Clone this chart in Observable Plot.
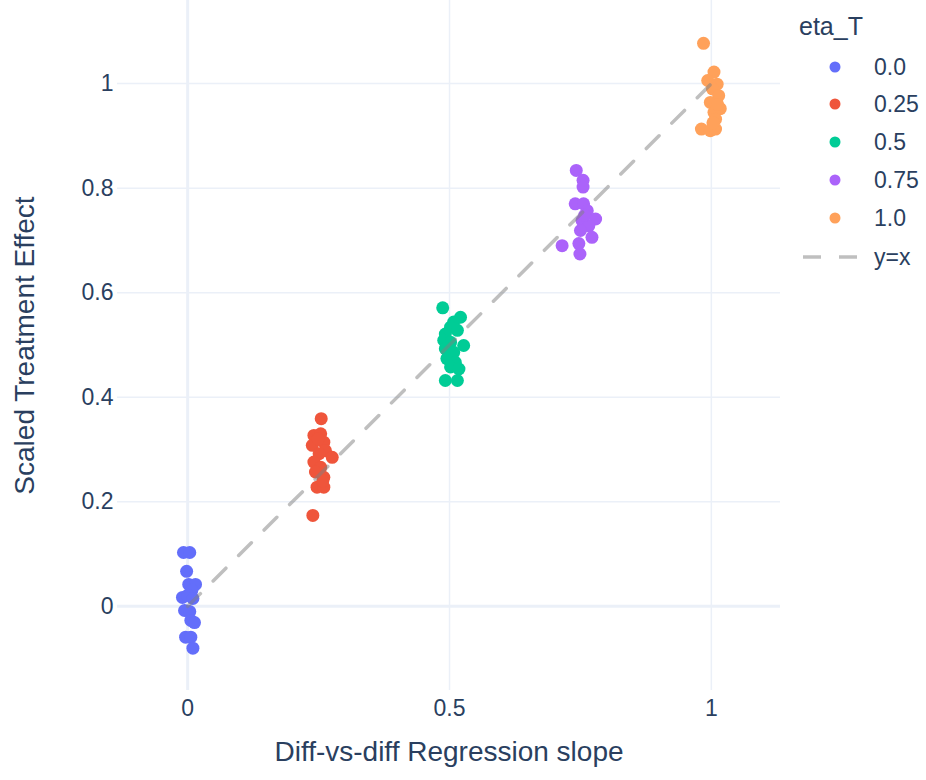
<!DOCTYPE html>
<html>
<head>
<meta charset="utf-8">
<script src="https://cdn.jsdelivr.net/npm/d3@7"></script>
<script src="https://cdn.jsdelivr.net/npm/@observablehq/plot@0.6"></script>
<style>
  html, body { margin: 0; padding: 0; background: #fff; }
  #wrap { position: relative; width: 926px; height: 780px; font-family: "Liberation Sans", Arial, sans-serif; }
  #legend { position: absolute; left: 0; top: 0; pointer-events: none; }
</style>
</head>
<body>
<div id="wrap"></div>
<script>
// Treatment-effect levels and their colours
const etaLevels = ["0.0", "0.25", "0.5", "0.75", "1.0"];
const etaColors = ["#636efa", "#ef553b", "#00cc96", "#ab63fa", "#ffa15a"];

// Estimated regression slope per simulation run, one list per eta level
const slopes = [
  [-0.008, 0.004, -0.002, 0.002, 0.015, 0.008, -0.010, 0.000, 0.010, -0.006, 0.004, 0.006, 0.013, -0.004, 0.006, 0.010],
  [0.255, 0.241, 0.254, 0.260, 0.238, 0.263, 0.251, 0.276, 0.241, 0.254, 0.244, 0.260, 0.247, 0.260, 0.239, 0.249, 0.258],
  [0.487, 0.521, 0.508, 0.502, 0.515, 0.492, 0.489, 0.502, 0.527, 0.492, 0.508, 0.495, 0.511, 0.502, 0.518, 0.492, 0.515],
  [0.742, 0.755, 0.755, 0.740, 0.756, 0.763, 0.779, 0.753, 0.766, 0.750, 0.772, 0.715, 0.747, 0.749, 0.758],
  [0.985, 1.005, 0.993, 1.011, 1.002, 1.014, 0.998, 1.017, 1.005, 1.008, 0.981, 0.998, 1.008, 1.003, 1.012]
];

// Scaled treatment effect per simulation run, matching the slopes above
const effects = [
  [0.103, 0.103, 0.067, 0.042, 0.042, 0.031, 0.017, 0.021, 0.015, -0.008, -0.010, -0.027, -0.031, -0.059, -0.059, -0.080],
  [0.359, 0.327, 0.330, 0.314, 0.308, 0.298, 0.292, 0.285, 0.276, 0.266, 0.257, 0.247, 0.228, 0.228, 0.174, 0.320, 0.240],
  [0.571, 0.553, 0.544, 0.534, 0.528, 0.521, 0.509, 0.505, 0.499, 0.493, 0.486, 0.474, 0.467, 0.458, 0.454, 0.432, 0.432],
  [0.834, 0.815, 0.802, 0.770, 0.770, 0.757, 0.741, 0.738, 0.728, 0.719, 0.706, 0.690, 0.694, 0.674, 0.748],
  [1.077, 1.022, 1.006, 0.999, 0.990, 0.977, 0.964, 0.952, 0.945, 0.932, 0.913, 0.910, 0.913, 0.925, 0.960]
];

// Axis ticks
const xTicks = [0, 0.5, 1];
const yTicks = [0, 0.2, 0.4, 0.6, 0.8, 1];

// Identity reference line
const identityLine = [0, 1];

const points = etaLevels.flatMap((eta, i) =>
  slopes[i].map((s, j) => ({eta, slope: s, effect: effects[i][j]}))
);
const refLine = identityLine.map(v => ({slope: v, effect: v}));

const gridColor = "#ebf0f8";
const textColor = "#2a3f5f";

const chart = Plot.plot({
  width: 926,
  height: 780,
  marginLeft: 117,
  marginRight: 146,
  marginTop: 0,
  marginBottom: 90,
  style: {fontFamily: "'Liberation Sans', Arial, sans-serif", fontSize: "23px", color: textColor, background: "white"},
  x: {domain: [-0.134, 1.132]},
  y: {domain: [-0.161, 1.159]},
  color: {domain: etaLevels, range: etaColors},
  marks: [
    Plot.ruleX(xTicks.filter(d => d !== 0), {x: d => d, stroke: gridColor, strokeWidth: 1.5}),
    Plot.ruleY(yTicks.filter(d => d !== 0), {y: d => d, stroke: gridColor, strokeWidth: 1.5}),
    Plot.ruleX([0], {stroke: gridColor, strokeWidth: 3}),
    Plot.ruleY([0], {stroke: gridColor, strokeWidth: 3}),
    Plot.axisX(xTicks, {tickSize: 0, tickPadding: 9, tickFormat: d => String(d), label: null, fill: textColor}),
    Plot.axisY(yTicks, {tickSize: 0, tickPadding: 4, tickFormat: d => String(d), label: null, fill: textColor}),
    Plot.dot(points, {x: "slope", y: "effect", fill: "eta", r: 6.5, stroke: "none"}),
    Plot.line(refLine, {x: "slope", y: "effect", stroke: "gray", strokeOpacity: 0.5, strokeWidth: 3.5, strokeDasharray: "18,18"}),
    Plot.text(["Diff-vs-diff Regression slope"], {frameAnchor: "bottom", dy: 70, fontSize: 28, fill: textColor}),
    Plot.text(["Scaled Treatment Effect"], {frameAnchor: "left", textAnchor: "middle", dx: -92, rotate: -90, fontSize: 28, fill: textColor})
  ]
});

const wrap = document.getElementById("wrap");
wrap.appendChild(chart);

// Legend on the right of the plotting area
const legend = d3.select(wrap).append("svg")
  .attr("id", "legend")
  .attr("width", 926)
  .attr("height", 780)
  .style("font-family", "'Liberation Sans', Arial, sans-serif")
  .style("fill", textColor);

legend.append("text")
  .attr("x", 799).attr("y", 35)
  .attr("font-size", 25)
  .text("eta_T");

const rowY = [67, 104, 142, 180, 218];
etaLevels.forEach((eta, i) => {
  legend.append("circle")
    .attr("cx", 835).attr("cy", rowY[i]).attr("r", 5.5)
    .attr("fill", etaColors[i]);
  legend.append("text")
    .attr("x", 874).attr("y", rowY[i]).attr("dy", "0.35em")
    .attr("font-size", 23)
    .text(eta);
});

legend.append("line")
  .attr("x1", 803).attr("x2", 858).attr("y1", 257).attr("y2", 257)
  .attr("stroke", "gray").attr("stroke-opacity", 0.5)
  .attr("stroke-width", 3.5).attr("stroke-dasharray", "18,18");
legend.append("text")
  .attr("x", 874).attr("y", 257).attr("dy", "0.35em")
  .attr("font-size", 23)
  .text("y=x");
</script>
</body>
</html>
